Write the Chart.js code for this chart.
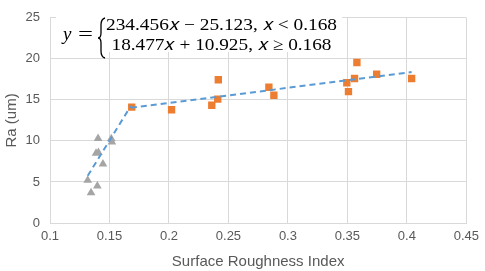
<!DOCTYPE html>
<html>
<head>
<meta charset="utf-8">
<script src="https://cdn.jsdelivr.net/npm/chart.js@4/dist/chart.umd.min.js"></script>
<style>
html,body{margin:0;padding:0;background:#fff;}
#wrap{width:485px;height:271px;position:relative;}
</style>
</head>
<body>
<div id="wrap"><canvas id="c" width="485" height="271"></canvas></div>
<script>
// Orange squares (x >= 0.168 region)
const orangeX = [0.1687, 0.2022, 0.236, 0.241, 0.2415, 0.284, 0.2882, 0.3495, 0.3509, 0.356, 0.358, 0.3746, 0.404];
const orangeY = [14.12, 13.80, 14.35, 15.09, 17.45, 16.54, 15.56, 17.09, 16.00, 17.60, 19.56, 18.12, 17.60];
// Gray triangles (x < 0.168 region)
const grayX = [0.1404, 0.1515, 0.152, 0.1387, 0.1407, 0.1445, 0.1317, 0.1398, 0.1345];
const grayY = [10.30, 10.27, 9.88, 8.50, 8.60, 7.20, 5.20, 4.50, 3.68];
// Trend line segment end points
const trend1X = [0.1317, 0.168];
const trend1Y = [5.75, 14.27];
const trend2X = [0.168, 0.404];
const trend2Y = [14.03, 18.39];
// Tick labels
const xTicks = [0.1, 0.15, 0.2, 0.25, 0.3, 0.35, 0.4, 0.45];
const xTickLabels = ["0.1", "0.15", "0.2", "0.25", "0.3", "0.35", "0.4", "0.45"];
const yTicks = [0, 5, 10, 15, 20, 25];
const yTickLabels = ["0", "5", "10", "15", "20", "25"];
const xTitle = "Surface Roughness Index";
const yTitle = "Ra (um)";
const eqLine1 = "234.456\u{1D465} \u2212 25.123, \u{1D465} < 0.168";
const eqLine2 = "18.477\u{1D465} + 10.925, \u{1D465} \u2265 0.168";

const zip = (xs, ys) => xs.map((x, i) => ({x, y: ys[i]}));

function drawStretched(ctx, s, x, y, w) {
  const m = ctx.measureText(s).width;
  ctx.save();
  ctx.translate(x, y);
  ctx.scale(w / m, 1);
  ctx.fillText(s, 0, 0);
  ctx.restore();
}

const eqPlugin = {
  id: 'eq',
  afterDatasetsDraw(chart) {
    const ctx = chart.ctx;
    ctx.save();
    ctx.fillStyle = '#ffffff';
    ctx.fillRect(56, 12, 286, 40);
    ctx.fillStyle = '#000000';
    ctx.textBaseline = 'middle';
    ctx.font = 'italic 19px "Liberation Serif", serif';
    ctx.fillText('y', 63, 35);
    ctx.font = '19px "Liberation Serif", serif';
    drawStretched(ctx, '=', 78, 35, 15);
    // brace
    ctx.strokeStyle = '#000';
    ctx.lineWidth = 1.3;
    const bx = 101, top = 18, bot = 58, mid = (top + bot) / 2;
    ctx.beginPath();
    ctx.moveTo(bx + 4, top);
    ctx.quadraticCurveTo(bx, top + 1, bx, top + 7);
    ctx.lineTo(bx, mid - 5);
    ctx.quadraticCurveTo(bx, mid, bx - 3, mid);
    ctx.quadraticCurveTo(bx, mid, bx, mid + 5);
    ctx.lineTo(bx, bot - 7);
    ctx.quadraticCurveTo(bx, bot - 1, bx + 4, bot);
    ctx.stroke();
    ctx.font = '17px "Liberation Serif", serif';
    drawStretched(ctx, eqLine1, 106, 26, 231);
    drawStretched(ctx, eqLine2, 111.5, 45.5, 220);
    ctx.restore();
  }
};

new Chart(document.getElementById('c'), {
  type: 'scatter',
  data: {
    datasets: [
      { data: zip(trend1X, trend1Y), showLine: true, borderColor: '#5B9BD5', borderWidth: 2, borderDash: [6, 4], pointRadius: 0, fill: false, order: 1 },
      { data: zip(trend2X, trend2Y), showLine: true, borderColor: '#5B9BD5', borderWidth: 2, borderDash: [6, 4], pointRadius: 0, fill: false, order: 1 },
      { data: zip(orangeX, orangeY), pointStyle: 'rect', pointRadius: 5.2, backgroundColor: '#ED7D31', borderColor: '#ED7D31', borderWidth: 0, order: 2 },
      { data: zip(grayX, grayY), pointStyle: 'triangle', pointRadius: 5, backgroundColor: '#A5A5A5', borderColor: '#A5A5A5', borderWidth: 0, order: 2 }
    ]
  },
  options: {
    responsive: false,
    animation: false,
    devicePixelRatio: 1,
    layout: { padding: { top: 11, right: 16, left: 0, bottom: 0 } },
    plugins: { legend: { display: false }, tooltip: { enabled: false } },
    scales: {
      x: {
        type: 'linear', min: 0.1, max: 0.45,
        afterBuildTicks(s) { s.ticks = xTicks.map(v => ({value: v})); },
        afterFit(s) { s.height = 48; },
        ticks: { callback: (v, i) => xTickLabels[i], color: '#595959', font: { family: 'Liberation Sans', size: 13 }, maxRotation: 0, padding: 6 },
        grid: { color: '#D9D9D9', lineWidth: 1, drawTicks: false },
        border: { color: '#D9D9D9' },
        title: { display: true, text: xTitle, color: '#595959', font: { family: 'Liberation Sans', size: 15 }, padding: { top: 2, bottom: 0 } }
      },
      y: {
        type: 'linear', min: 0, max: 25,
        afterBuildTicks(s) { s.ticks = yTicks.map(v => ({value: v})); },
        afterFit(s) { s.width = 50; },
        ticks: { callback: (v, i) => yTickLabels[i], color: '#595959', font: { family: 'Liberation Sans', size: 13 }, padding: 10 },
        grid: { color: '#D9D9D9', lineWidth: 1, drawTicks: false },
        border: { color: '#D9D9D9' },
        title: { display: true, text: yTitle, color: '#595959', font: { family: 'Liberation Sans', size: 15 }, padding: { top: 3, bottom: 0 } }
      }
    }
  },
  plugins: [eqPlugin]
});
</script>
</body>
</html>
